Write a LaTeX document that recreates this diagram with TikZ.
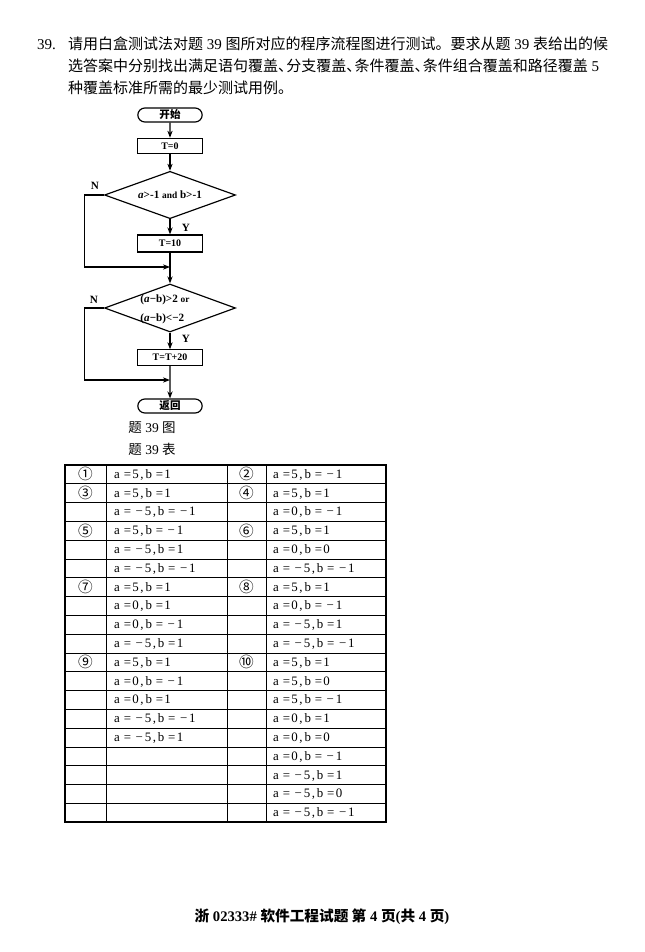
\documentclass[tikz,border=0pt]{standalone}
\usepackage{fontspec}
\setmainfont{Liberation Serif}
\newfontfamily\cjk{Noto Sans CJK SC}
\usetikzlibrary{shapes.geometric,shapes.misc,arrows.meta}

% one table entry: a = x, b = y
\newcommand\ab[2]{a\hspace{0.3em}=\hspace{0.1em}#1\hspace{0.12em},\hspace{0.15em}b\hspace{0.3em}=\hspace{0.1em}#2}
\newcommand\negv[1]{\hspace{0.25em}−\hspace{0.15em}#1}
\newcommand\dun{\makebox[0.55em][l]{、}}

\begin{document}
\begin{tikzpicture}[
    x=0.03cm, y=-0.03cm,
    box/.style={draw, line width=1pt, minimum width=1.95cm, minimum height=0.46cm, inner sep=1pt, font=\fontsize{8.5}{10}\selectfont\bfseries},
    term/.style={draw, line width=1pt, rounded rectangle, minimum width=2cm, minimum height=0.42cm, inner sep=1pt, font=\fontsize{9}{10}\selectfont\cjk\bfseries},
    decision/.style={draw, line width=1pt, diamond, aspect=2.78, minimum width=3.93cm, minimum height=1.42cm, inner sep=0pt, font=\fontsize{9.5}{11}\selectfont\bfseries},
    lbl/.style={inner sep=1pt, font=\fontsize{9.5}{10}\selectfont\bfseries},
    body/.style={anchor=base west, inner sep=0pt, font=\fontsize{12.8}{15}\selectfont},
    cell/.style={anchor=base west, inner sep=0pt, font=\fontsize{11}{13}\selectfont},
    num/.style={inner sep=0pt, font=\fontsize{12.5}{13}\selectfont\cjk},
    >={Stealth[length=6pt,width=4.5pt]},
]
    \useasboundingbox (0,0) rectangle (644,952);

    % Question
    \node[body] (qno) at (37,49.5) {39.};
    \node[body] (q1) at (68,49.5) {{\cjk 请用白盒测试法对题} 39 {\cjk 图所对应的程序流程图进行测试。要求从题} 39 {\cjk 表给出的候}};
    \node[body] (q2) at (68,71.5) {{\cjk 选答案中分别找出满足语句覆盖\dun 分支覆盖\dun 条件覆盖\dun 条件组合覆盖和路径覆盖} 5};
    \node[body] (q3) at (68,93.5) {{\cjk 种覆盖标准所需的最少测试用例。}};

    % Flow chart
    \node[term] (start) at (170,115) {开始};
    \node[box] (t0) at (170,146) {T=0};
    \node[decision] (d1) at (170,195) {{\itshape a}>-1 {\fontsize{8}{9}\selectfont and} b>-1};
    \node[box, minimum height=0.51cm] (t10) at (170,243.5) {T=10};
    \coordinate (m1) at (170,267);
    \node[decision, minimum height=1.44cm] (d2) at (170,308) {};
    \node[decision, draw=none, minimum size=0pt, align=left, font=\fontsize{9.5}{16}\selectfont\bfseries] (c2) at (165,309) {({\itshape a}−b)>2 {\fontsize{8}{9}\selectfont or}\\({\itshape a}−b)<−2};
    \node[box] (t20) at (170,357.5) {T=T+20};
    \coordinate (m2) at (170,380);
    \node[term] (ret) at (170,406) {返回};

    \draw[->, line width=1pt] (start) -- (t0);
    \draw[->, line width=1pt] (t0) -- (d1);
    \draw[->, line width=1pt] (d1) -- (t10);
    \draw[->, line width=1pt] (d1.west) -- ++(-19,0) |- (m1);
    \draw[->, line width=1pt] (t10) -- (d2);
    \draw[->, line width=1pt] (d2) -- (t20);
    \draw[->, line width=1pt] (d2.west) -- ++(-19,0) |- (m2);
    \draw[->, line width=1pt] (t20) -- (ret);

    \node[lbl] (n1) at (95,186) {N};
    \node[lbl] (y1) at (186,228) {Y};
    \node[lbl] (n2) at (94,300) {N};
    \node[lbl] (y2) at (186,339) {Y};

    % Captions
    \node[font=\fontsize{11.5}{13}\selectfont] (fig) at (152,428) {{\cjk 题} 39 {\cjk 图}};
    \node[font=\fontsize{11.5}{13}\selectfont] (tab) at (152,449) {{\cjk 题} 39 {\cjk 表}};

    % Table
    \foreach \r in {1,...,18}
        \draw[line width=0.6pt] (65,{465+\r*18.79}) -- (386,{465+\r*18.79});
    \foreach \x in {106,227,266}
        \draw[line width=0.6pt] (\x,465) -- (\x,822);
    \draw[line width=0.9pt] (65,465) rectangle (386,822);

    \foreach \r/\n in {1/①,2/③,4/⑤,7/⑦,11/⑨}
        \node[num] (na\r) at (85.5,{465+(\r-0.5)*18.79}) {\n};
    \foreach \r/\n in {1/②,2/④,4/⑥,7/⑧,11/⑩}
        \node[num] (nb\r) at (246.5,{465+(\r-0.5)*18.79}) {\n};

    \foreach \r/\t in {1/{\ab{5}{1}}, 2/{\ab{5}{1}}, 3/{\ab{\negv{5}}{\negv{1}}},
                       4/{\ab{5}{\negv{1}}}, 5/{\ab{\negv{5}}{1}}, 6/{\ab{\negv{5}}{\negv{1}}},
                       7/{\ab{5}{1}}, 8/{\ab{0}{1}}, 9/{\ab{0}{\negv{1}}}, 10/{\ab{\negv{5}}{1}},
                       11/{\ab{5}{1}}, 12/{\ab{0}{\negv{1}}}, 13/{\ab{0}{1}},
                       14/{\ab{\negv{5}}{\negv{1}}}, 15/{\ab{\negv{5}}{1}}}
        \node[cell] (la\r) at (114,{465+(\r-0.5)*18.79+4}) {\t};
    \foreach \r/\t in {1/{\ab{5}{\negv{1}}}, 2/{\ab{5}{1}}, 3/{\ab{0}{\negv{1}}},
                       4/{\ab{5}{1}}, 5/{\ab{0}{0}}, 6/{\ab{\negv{5}}{\negv{1}}},
                       7/{\ab{5}{1}}, 8/{\ab{0}{\negv{1}}}, 9/{\ab{\negv{5}}{1}}, 10/{\ab{\negv{5}}{\negv{1}}},
                       11/{\ab{5}{1}}, 12/{\ab{5}{0}}, 13/{\ab{5}{\negv{1}}}, 14/{\ab{0}{1}},
                       15/{\ab{0}{0}}, 16/{\ab{0}{\negv{1}}}, 17/{\ab{\negv{5}}{1}},
                       18/{\ab{\negv{5}}{0}}, 19/{\ab{\negv{5}}{\negv{1}}}}
        \node[cell] (lb\r) at (273,{465+(\r-0.5)*18.79+4}) {\t};

    % Footer
    \node[font=\fontsize{12.5}{15}\selectfont\bfseries] (foot) at (322,917) {{\cjk 浙} 02333\# {\cjk 软件工程试题 第} 4 {\cjk 页}({\cjk 共} 4 {\cjk 页})};
\end{tikzpicture}
\end{document}
